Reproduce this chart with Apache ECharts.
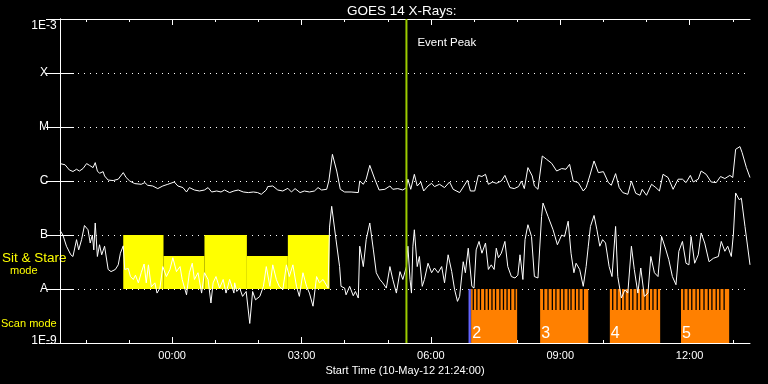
<!DOCTYPE html>
<html><head><meta charset="utf-8">
<script src="https://cdn.jsdelivr.net/npm/echarts@6/dist/echarts.min.js"></script>
<style>html,body{margin:0;padding:0;background:#000;}#c{width:768px;height:384px;}</style>
</head><body><div id="c"></div>
<script>
// ---- DATA (times in minutes after 10-May-12 21:24:00, flux in W/m^2) ----
const chartTitle = 'GOES 14 X-Rays:';
const xAxisTitle = 'Start Time (10-May-12 21:24:00)';
const xMajorTicks = [156, 336, 516, 696, 876];
const xMajorLabels = ['00:00', '03:00', '06:00', '09:00', '12:00'];
const xMinorTicks = [36, 96, 216, 276, 396, 456, 576, 636, 756, 816, 936];
const yTickLabels = ['1E-9', 'A', 'B', 'C', 'M', 'X', '1E-3'];

const longChannel = [[0,2.1e-6],[7,2.0e-6],[13,1.6e-6],[18,1.5e-6],[23,1.65e-6],[27,1.53e-6],[32,1.7e-6],[37,2.1e-6],[41,1.95e-6],[46,1.77e-6],[49,2.19e-6],[52,1.53e-6],[55,1.39e-6],[60,1.49e-6],[62,1.24e-6],[67,1.04e-6],[74,1.02e-6],[81,1.08e-6],[88,1.43e-6],[92,1.16e-6],[97,1.0e-6],[104,8.95e-7],[113,8.69e-7],[118,9.34e-7],[122,8.33e-7],[129,8.08e-7],[136,7.23e-7],[143,8.08e-7],[150,8.69e-7],[159,9.58e-7],[164,8.08e-7],[171,7.55e-7],[176,6.26e-7],[180,7.55e-7],[187,6.81e-7],[194,6.53e-7],[201,6.81e-7],[206,7.55e-7],[211,6.26e-7],[218,6.53e-7],[224,6.26e-7],[229,6.81e-7],[236,6.1e-7],[242,6.53e-7],[248,6.81e-7],[255,6.26e-7],[262,6.1e-7],[269,6.26e-7],[275,6.1e-7],[280,5.67e-7],[287,6.81e-7],[289,7.88e-7],[296,8.08e-7],[303,6.81e-7],[310,6.53e-7],[317,7.32e-7],[322,6.26e-7],[327,7.23e-7],[334,6.1e-7],[340,6.53e-7],[347,6.26e-7],[354,6.53e-7],[359,7.55e-7],[364,6.81e-7],[371,7.02e-7],[374,1.0e-6],[379,3.12e-6],[385,1.53e-6],[390,7.02e-7],[396,6.26e-7],[405,6.26e-7],[415,6.1e-7],[417,1.0e-6],[422,8.69e-7],[426,1.08e-6],[431,1.95e-6],[438,1.08e-6],[444,6.81e-7],[452,7.02e-7],[459,8.08e-7],[463,7.02e-7],[470,7.23e-7],[477,6.81e-7],[482,7.55e-7],[484,1.08e-6],[488,7.02e-7],[493,1.33e-6],[497,8.08e-7],[502,9.58e-7],[506,6.53e-7],[512,8.08e-7],[517,9.06e-7],[521,7.88e-7],[528,8.69e-7],[535,7.55e-7],[542,9.58e-7],[547,7.02e-7],[556,6.1e-7],[562,8.08e-7],[567,1.04e-6],[571,6.53e-7],[577,6.53e-7],[582,1.27e-6],[587,1.21e-6],[592,1.33e-6],[596,8.69e-7],[602,9.58e-7],[607,9.06e-7],[614,1.0e-6],[619,1.27e-6],[626,7.55e-7],[632,7.23e-7],[638,7.88e-7],[642,1.0e-6],[646,7.23e-7],[651,1.77e-6],[657,1.24e-6],[660,8.08e-7],[665,7.02e-7],[671,2.9e-6],[677,2.52e-6],[684,2.13e-6],[691,1.53e-6],[698,1.7e-6],[704,1.65e-6],[709,2.04e-6],[714,1.0e-6],[721,9.34e-7],[728,6.53e-7],[732,7.55e-7],[737,1.24e-6],[743,2.35e-6],[749,1.43e-6],[756,1.49e-6],[763,9.34e-7],[767,8.33e-7],[773,1.37e-6],[778,7.55e-7],[783,6.1e-7],[790,5.67e-7],[795,1.0e-6],[801,5.92e-7],[807,5.44e-7],[810,7.02e-7],[816,5.44e-7],[823,8.69e-7],[829,7.55e-7],[834,6.53e-7],[839,1.33e-6],[846,1.16e-6],[853,7.02e-7],[860,1.08e-6],[866,1.08e-6],[871,9.34e-7],[877,1.27e-6],[881,9.58e-7],[888,1.08e-6],[892,1.53e-6],[899,1.33e-6],[906,9.58e-7],[913,9.34e-7],[919,1.21e-6],[925,1.11e-6],[932,1.27e-6],[936,1.16e-6],[940,3.86e-6],[946,4.34e-6],[949,3.36e-6],[955,1.77e-6],[960,1.16e-6]];

const shortChannel = [[0,1.22e-7],[4,1.0e-7],[9,6.2e-8],[15,4.3e-8],[18,4.0e-8],[23,8.2e-8],[26,5.3e-8],[30,8.2e-8],[34,1.5e-7],[39,1.25e-7],[42,7.1e-8],[45,1.0e-7],[47,5.3e-8],[49,1.67e-7],[52,4.0e-8],[55,6.6e-8],[58,4.3e-8],[62,6.2e-8],[67,2.3e-8],[71,2.1e-8],[77,2.3e-8],[81,2.8e-8],[84,4.6e-8],[88,6.3e-8],[90,2.3e-8],[95,2.4e-8],[98,1.7e-8],[102,1.5e-8],[105,1.8e-8],[109,1.3e-8],[113,2.0e-8],[117,2.9e-8],[120,1.3e-8],[123,2.8e-8],[127,1.1e-8],[132,1.3e-8],[135,8.4e-9],[139,1.04e-8],[143,2.6e-8],[148,1.7e-8],[153,2.3e-8],[157,3.8e-8],[162,2.1e-8],[167,2.6e-8],[170,1.5e-8],[176,7.8e-9],[180,2.0e-8],[184,3.0e-8],[187,1.5e-8],[192,2.0e-8],[197,8.4e-9],[201,2.0e-8],[206,1.5e-8],[210,5.5e-9],[213,1.3e-8],[217,1.7e-8],[222,1.04e-8],[227,1.5e-8],[231,8.4e-9],[236,1.5e-8],[242,8.4e-9],[243,1.3e-8],[246,9.0e-9],[250,1.04e-8],[254,7.3e-9],[259,9.0e-9],[264,2.3e-9],[268,9.0e-9],[272,6.3e-9],[278,7.3e-9],[283,1.12e-8],[287,2.6e-8],[292,1.12e-8],[296,2.8e-8],[301,1.5e-8],[305,1.12e-8],[310,9.7e-9],[315,2.8e-8],[319,1.7e-8],[324,2.8e-8],[329,1.12e-8],[333,7.3e-9],[338,2.0e-8],[343,1.12e-8],[347,8.4e-9],[352,4.8e-9],[357,1.7e-8],[361,1.3e-8],[366,1.5e-8],[373,1.04e-8],[375,1.4e-7],[378,3.4e-7],[384,8.2e-8],[389,2.6e-8],[391,1.12e-8],[396,1.04e-8],[398,7.8e-9],[403,1.12e-8],[408,7.5e-9],[411,9.0e-9],[415,6.8e-9],[417,6.2e-8],[422,2.6e-8],[426,8.2e-8],[431,1.67e-7],[436,5.3e-8],[440,2.0e-8],[445,1.5e-8],[449,1.3e-8],[454,1.04e-8],[459,2.6e-8],[463,1.5e-8],[468,8.4e-9],[473,2.1e-8],[477,1.5e-8],[482,2.6e-8],[484,6.2e-8],[487,1.5e-8],[489,8.4e-9],[491,6.2e-8],[493,1.25e-7],[497,2.6e-8],[500,4.0e-8],[504,1.12e-8],[507,1.5e-8],[512,3.0e-8],[517,2.0e-8],[521,2.45e-8],[526,2.0e-8],[531,2.6e-8],[535,1.3e-8],[540,4.3e-8],[545,2.1e-8],[549,9.7e-9],[553,5.9e-9],[556,7.3e-9],[561,3.2e-8],[564,2.0e-8],[568,5.7e-8],[573,1.12e-8],[576,1.04e-8],[579,5.3e-8],[583,7.6e-8],[587,4.6e-8],[592,7.1e-8],[596,2.3e-8],[600,2.8e-8],[604,2.3e-8],[607,5.7e-8],[610,3.8e-8],[614,4.6e-8],[619,7.6e-8],[623,2.6e-8],[628,1.7e-8],[633,1.6e-8],[637,1.8e-8],[640,4.3e-8],[644,1.5e-8],[647,8.2e-8],[651,1.55e-7],[656,9.4e-8],[660,1.7e-8],[665,1.6e-8],[670,2.2e-7],[672,3.9e-7],[679,2.2e-7],[686,1.25e-7],[692,6.6e-8],[698,1.0e-7],[702,9.4e-8],[707,1.8e-7],[711,4.6e-8],[715,2.0e-8],[718,3.0e-8],[723,2.3e-8],[728,1.12e-8],[732,2.6e-8],[735,6.2e-8],[738,1.44e-7],[743,2.3e-7],[747,1.25e-7],[751,6.2e-8],[755,8.2e-8],[759,7.1e-8],[764,2.6e-8],[768,1.7e-8],[773,1.44e-7],[776,1.7e-8],[781,6.8e-9],[786,9.7e-9],[790,8.4e-9],[795,6.2e-8],[799,2.3e-8],[804,8.4e-9],[808,2.45e-8],[813,7.3e-9],[818,8.4e-9],[822,4.0e-8],[827,2.0e-8],[832,1.7e-8],[837,9.4e-8],[843,5.3e-8],[847,3.5e-8],[852,1.7e-8],[857,1.2e-8],[861,5.0e-8],[866,7.6e-8],[871,3.0e-8],[875,2.8e-8],[878,9.4e-8],[883,3.0e-8],[888,4.3e-8],[892,1.09e-7],[897,7.1e-8],[903,3.2e-8],[909,3.7e-8],[916,4.0e-8],[920,7.6e-8],[925,5.0e-8],[929,6.2e-8],[934,4.0e-8],[937,1.09e-7],[940,6.0e-7],[945,4.5e-7],[948,4.8e-7],[953,1.44e-7],[960,2.8e-8]];

const sitStareEdges = [88, 144, 201, 260, 317, 375];
const sitStareTops = [1e-7, 4.1e-8, 1e-7, 4.1e-8, 1e-7];
const sitStareBase = 1e-8;

const scanStarts = [572, 668, 765, 864];
const scanEnds = [636, 735, 835, 931];
const scanNumbers = ['2', '3', '4', '5'];
const scanGaps = [575,580,585,591,596,601,606,612,617,622,627,633,
                  673,679,685,690,696,701,707,711,717,722,728,
                  769,775,781,786,792,797,803,808,814,820,825,831,
                  868,874,879,885,890,896,902,907,913,918,924];
const scanFloor = 1e-9;
const scanSolidTop = 4.1e-9;
const scanCombTop = 1e-8;

const modeSwitchTime = 570;
const eventPeakTime = 482;
const eventLabel = 'Event Peak';
const yMin = 1e-9, yMax = 1e-3;

// ---- CHART ----
const FONT = 'Liberation Sans';
const WHITE = '#ffffff';
const chart = echarts.init(document.getElementById('c'), null, {renderer: 'canvas'});

function xAxisBase(extra) {
  return Object.assign({
    type: 'value', min: 0, max: 960, gridIndex: 0,
    axisLine: {show: false}, splitLine: {show: false},
    axisLabel: {show: false}
  }, extra);
}

const option = {
  backgroundColor: '#000000',
  animation: false,
  title: {
    text: chartTitle, left: 342, top: -1,
    textStyle: {color: WHITE, fontSize: 13.5, fontWeight: 'normal', fontFamily: FONT}
  },
  grid: {left: 60, right: 18, top: 19, bottom: 41, containLabel: false},
  xAxis: [
    xAxisBase({
      position: 'bottom',
      axisLine: {show: true, lineStyle: {color: WHITE, width: 1}},
      axisTick: {show: true, inside: true, length: 6, customValues: xMajorTicks, lineStyle: {color: WHITE}},
      axisLabel: {show: true, customValues: xMajorTicks, color: WHITE, fontSize: 11, fontFamily: FONT, margin: 7,
        formatter: v => xMajorLabels[xMajorTicks.indexOf(Math.round(v))] || ''},
      name: xAxisTitle, nameLocation: 'middle', nameGap: 20,
      nameTextStyle: {color: WHITE, fontSize: 11, fontFamily: FONT}
    }),
    xAxisBase({position: 'bottom',
      axisTick: {show: true, inside: true, length: 3, customValues: xMinorTicks, lineStyle: {color: WHITE}}}),
    xAxisBase({position: 'top',
      axisLine: {show: true, lineStyle: {color: WHITE, width: 1}},
      axisTick: {show: true, inside: true, length: 6, customValues: xMajorTicks, lineStyle: {color: WHITE}}}),
    xAxisBase({position: 'top',
      axisTick: {show: true, inside: true, length: 3, customValues: xMinorTicks, lineStyle: {color: WHITE}}})
  ],
  yAxis: [
    {
      type: 'log', logBase: 10, min: yMin, max: yMax, interval: 1, position: 'left',
      axisLine: {show: true, lineStyle: {color: WHITE, width: 1}},
      axisTick: {show: true, inside: true, length: 14, lineStyle: {color: WHITE}},
      axisLabel: {show: true, color: WHITE, fontSize: 12, fontFamily: FONT, align: 'center', margin: 16,
        formatter: v => {
          const i = Math.round(Math.log10(v)) + 9;
          const t = yTickLabels[i] || '';
          if (i === yTickLabels.length - 1) return '{hi|' + t + '}';
          if (i === 0) return '{lo|' + t + '}';
          return t;
        },
        rich: {
          hi: {color: WHITE, fontSize: 12, fontFamily: FONT, padding: [14, 0, 0, 0]},
          lo: {color: WHITE, fontSize: 12, fontFamily: FONT, padding: [0, 0, 5, 0]}
        }},
      splitLine: {show: true, lineStyle: {color: WHITE, width: 1, type: [1, 5]}}
    },
    {
      type: 'log', logBase: 10, min: yMin, max: yMax, interval: 1, position: 'right',
      axisLine: {show: true, lineStyle: {color: WHITE, width: 1}},
      axisTick: {show: true, inside: true, length: 14, lineStyle: {color: WHITE}},
      axisLabel: {show: false}, splitLine: {show: false}
    }
  ],
  graphic: [
    {type: 'text', left: 2, top: 251, style: {text: 'Sit & Stare', fill: '#ffff00', font: '13.5px ' + FONT}},
    {type: 'text', left: 10, top: 265, style: {text: 'mode', fill: '#ffff00', font: '11px ' + FONT}},
    {type: 'text', left: 1, top: 318, style: {text: 'Scan mode', fill: '#ffff00', font: '11px ' + FONT}}
  ],
  series: [
    {
      type: 'custom', name: 'Sit & Stare', z: 1, silent: true,
      data: sitStareTops.map((top, i) => [sitStareEdges[i], sitStareEdges[i + 1], top]),
      encode: {x: [0, 1], y: 2},
      renderItem: (params, api) => {
        const a = api.coord([api.value(0), sitStareBase]);
        const b = api.coord([api.value(1), api.value(2)]);
        return {type: 'rect', shape: {x: a[0], y: b[1], width: b[0] - a[0], height: a[1] - b[1]},
          style: {fill: '#ffff00'}};
      }
    },
    {
      type: 'custom', name: 'Scan', z: 1, silent: true,
      data: scanStarts.map((s, i) => [s, scanEnds[i], scanCombTop, i]),
      encode: {x: [0, 1], y: 2},
      renderItem: (params, api) => {
        const a = api.coord([api.value(0), scanFloor]);
        const b = api.coord([api.value(1), scanSolidTop]);
        const c = api.coord([api.value(0), scanCombTop]);
        const w = b[0] - a[0];
        return {type: 'group', children: [
          {type: 'rect', shape: {x: a[0], y: b[1], width: w, height: a[1] - b[1]}, style: {fill: '#ff8000'}},
          {type: 'rect', shape: {x: a[0], y: c[1], width: w, height: b[1] - c[1]}, style: {fill: '#ff8000'}},
          {type: 'text', x: a[0] + 1, y: a[1] - 9, z2: 10,
            style: {text: scanNumbers[api.value(3)], fill: WHITE, font: '16px ' + FONT, align: 'left', verticalAlign: 'middle'}}
        ]};
      }
    },
    {
      type: 'custom', name: 'Scan gaps', z: 2, silent: true,
      data: scanGaps.map(t => [t, scanCombTop]),
      encode: {x: 0, y: 1},
      renderItem: (params, api) => {
        const a = api.coord([api.value(0), scanSolidTop]);
        const c = api.coord([api.value(0), scanCombTop]);
        return {type: 'rect', shape: {x: a[0] - 0.65, y: c[1], width: 1.3, height: a[1] - c[1]}, style: {fill: '#000000'}};
      }
    },
    {
      type: 'custom', name: 'Mode switch', z: 3, silent: true,
      data: [[modeSwitchTime, scanCombTop]],
      encode: {x: 0, y: 1},
      renderItem: (params, api) => {
        const a = api.coord([api.value(0), scanFloor]);
        const c = api.coord([api.value(0), api.value(1)]);
        return {type: 'line', shape: {x1: a[0], y1: a[1], x2: c[0], y2: c[1]}, style: {stroke: '#6464ff', lineWidth: 2.3}};
      }
    },
    {
      type: 'line', name: 'Long', data: longChannel, symbol: 'none', z: 5,
      lineStyle: {color: WHITE, width: 1}, silent: true
    },
    {
      type: 'line', name: 'Short', data: shortChannel, symbol: 'none', z: 5,
      lineStyle: {color: WHITE, width: 1}, silent: true
    },
    {
      type: 'custom', name: 'Event Peak', z: 6, silent: true,
      data: [[eventPeakTime, yMax]],
      encode: {x: 0, y: 1},
      renderItem: (params, api) => {
        const a = api.coord([api.value(0), yMin]);
        const c = api.coord([api.value(0), api.value(1)]);
        return {type: 'group', children: [
          {type: 'line', shape: {x1: a[0], y1: a[1], x2: c[0], y2: c[1]}, style: {stroke: '#9ccc00', lineWidth: 2}},
          {type: 'text', x: c[0] + 11, y: c[1] + 24,
            style: {text: eventLabel, fill: WHITE, font: '11.5px ' + FONT, align: 'left', verticalAlign: 'middle'}}
        ]};
      }
    }
  ]
};
chart.setOption(option);
</script>
</body></html>
